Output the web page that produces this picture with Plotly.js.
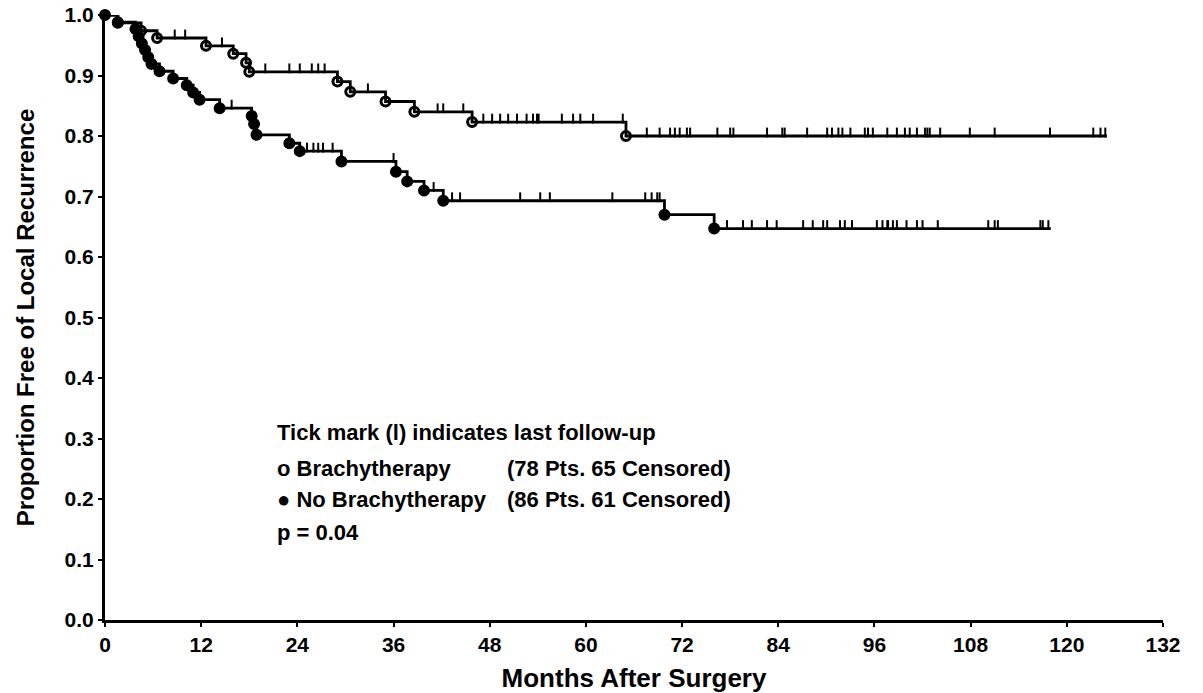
<!DOCTYPE html>
<html>
<head>
<meta charset="utf-8">
<script src="https://cdn.plot.ly/plotly-3.0.1.min.js"></script>
<style>html,body{margin:0;padding:0;background:#fff;}#chart{width:1203px;height:693px;}</style>
</head>
<body>
<div id="chart"></div>
<script>
// Brachytherapy (upper curve): event times (months) and survival after each event
const brachyTimes = [0, 1.6, 4.5, 6.5, 12.6, 16.0, 17.6, 18.0, 29.0, 30.6, 35.0, 38.6, 45.8, 65.0, 125.0];
const brachySurv  = [1.0, 0.987, 0.974, 0.962, 0.949, 0.936, 0.921, 0.906, 0.890, 0.873, 0.857, 0.840, 0.823, 0.800, 0.800];
const brachyCensor = [8.7, 10.0, 14.6, 20.0, 23.0, 24.3, 25.8, 26.6, 27.4, 32.8, 41.5, 42.2, 44.7,
  47.2, 48.3, 49.3, 50.3, 51.4, 52.6, 53.4, 53.9, 54.1, 57.0, 58.4, 59.3, 60.9, 64.6,
  67.6, 69.2, 70.5, 71.1, 71.7, 72.6, 73.0, 76.4, 78.0, 78.4, 82.6, 84.5, 84.8, 87.6, 90.1, 90.7,
  91.5, 92.0, 93.0, 94.8, 95.2, 95.8, 97.6, 98.8, 99.8, 100.4, 101.3, 102.3, 102.6, 102.9, 104.2,
  107.9, 111.0, 117.9, 123.3, 124.2, 124.8];

// No Brachytherapy (lower curve)
const noBrachyTimes = [0, 1.6, 3.8, 4.2, 4.6, 5.0, 5.4, 5.8, 6.8, 8.5, 10.2, 11.0, 11.8, 14.3, 18.3, 18.6, 18.9, 23.0, 24.3, 29.5, 36.3, 37.7, 39.8, 42.2, 69.8, 76.0, 118.0];
const noBrachySurv  = [1.0, 0.988, 0.977, 0.965, 0.953, 0.942, 0.930, 0.919, 0.907, 0.895, 0.884, 0.872, 0.860, 0.846, 0.833, 0.820, 0.802, 0.788, 0.775, 0.758, 0.741, 0.725, 0.710, 0.693, 0.670, 0.647, 0.647];
const noBrachyCensor = [15.8, 25.2, 26.0, 26.6, 27.2, 28.4, 36.0, 41.0, 43.3, 44.3, 51.8, 54.3, 55.5, 63.3,
  67.4, 68.2, 68.9, 69.2, 77.6, 79.6, 80.7, 82.6, 83.8, 87.1, 88.3, 89.6, 90.1, 91.7, 92.3, 93.2,
  96.3, 97.0, 97.6, 97.7, 98.3, 98.8, 100.0, 101.3, 102.0, 103.9, 110.2, 111.0, 111.4, 116.7, 117.0, 117.7];

// Tick labels
const xTicks = [0, 12, 24, 36, 48, 60, 72, 84, 96, 108, 120, 132];
const yTicks = [0, 0.1, 0.2, 0.3, 0.4, 0.5, 0.6, 0.7, 0.8, 0.9, 1.0];

function stepAt(times, surv, t) {
  let v = surv[0];
  for (let i = 0; i < times.length; i++) { if (times[i] <= t) v = surv[i]; }
  return v;
}

const black = '#000';
const traces = [];
function addCurve(times, surv, censor, symbol, includeStart) {
  traces.push({x: times, y: surv, mode: 'lines', line: {shape: 'hv', color: black, width: 2.8}, hoverinfo: 'skip', cliponaxis: false});
  const ex = [], ey = [];
  for (let i = includeStart ? 0 : 1; i < times.length - 1; i++) { ex.push(times[i]); ey.push(surv[i]); }
  traces.push({x: ex, y: ey, mode: 'markers', cliponaxis: false,
    marker: {symbol: symbol, size: 9, color: black, line: {color: black, width: 3}}});
  traces.push({x: censor, y: censor.map(t => stepAt(times, surv, t) + 0.0058), mode: 'markers', cliponaxis: false,
    marker: {symbol: 'line-ns', size: 7, line: {color: black, width: 2}}});
}
addCurve(brachyTimes, brachySurv, brachyCensor, 'circle-open', false);
addCurve(noBrachyTimes, noBrachySurv, noBrachyCensor, 'circle', true);

const font = {family: 'Liberation Sans, Arial, sans-serif', color: black};
function px2x(px) { return (px - 105) / 1058; }
function px2y(py) { return (620 - py) / 605; }
const annTxt = (text, px, py) => ({text: '<b>' + text + '</b>', xref: 'paper', yref: 'paper', x: px2x(px), y: px2y(py),
  xanchor: 'left', yanchor: 'middle', showarrow: false, font: Object.assign({size: 22}, font)});

const layout = {
  width: 1203, height: 693,
  margin: {l: 105, r: 40, t: 15, b: 73},
  paper_bgcolor: '#fff', plot_bgcolor: '#fff',
  showlegend: false,
  xaxis: {range: [0, 132], tickvals: xTicks, ticktext: xTicks.map(v => '<b>' + v + '</b>'),
    showgrid: false, zeroline: false, showline: true, linecolor: black, linewidth: 3,
    ticks: 'outside', ticklen: 4, tickwidth: 2, tickcolor: black,
    tickfont: Object.assign({size: 21}, font),
    title: {text: '<b>Months After Surgery</b>', font: Object.assign({size: 26}, font), standoff: 15}},
  yaxis: {range: [0, 1], tickvals: yTicks, ticktext: yTicks.map(v => '<b>' + v.toFixed(1) + '</b>'),
    showgrid: false, zeroline: false, showline: true, linecolor: black, linewidth: 3,
    ticks: 'outside', ticklen: 4, tickwidth: 2, tickcolor: black,
    tickfont: Object.assign({size: 21}, font),
    title: {text: '<b>Proportion Free of Local Recurrence</b>', font: Object.assign({size: 24}, font), standoff: 24}},
  annotations: [
    annTxt('Tick mark (l) indicates last follow-up', 275, 432),
    annTxt('o Brachytherapy', 275, 468),
    annTxt('(78 Pts. 65 Censored)', 505, 468),
    annTxt('\u25CF No Brachytherapy', 275, 499),
    annTxt('(86 Pts. 61 Censored)', 505, 499),
    annTxt('p = 0.04', 275, 532)
  ]
};
Plotly.newPlot('chart', traces, layout, {displayModeBar: false, staticPlot: true});
</script>
</body>
</html>
